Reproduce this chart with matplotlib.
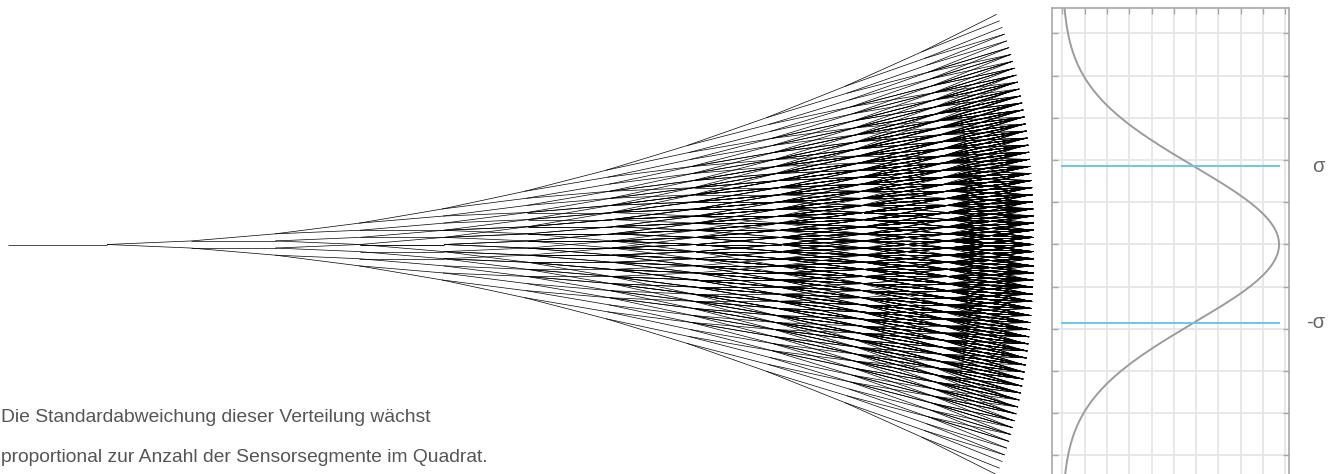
import numpy as np
import matplotlib.pyplot as plt
from matplotlib.collections import LineCollection

plt.rcParams['font.family'] = ['Liberation Sans', 'DejaVu Sans']

# Sensorkette: jedes Segment knickt um +/- delta gegen das vorige ab
n_segments = 11
delta = 0.0422         # Knickwinkel je Segment (rad)
stem_length = 1.175    # gerades Anfangsstück vor dem ersten Knick

# Verteilung der Endpunkte (rechtes Feld)
sigma = 1.855
peak = 9.72
grid_x = np.arange(0, 11)
grid_y = np.arange(-5, 6)

sigma_labels = ["σ", "-σ"]
caption = ["Die Standardabweichung dieser Verteilung wächst",
           "proportional zur Anzahl der Sensorsegmente im Quadrat."]

W, H = 1338, 474
fig = plt.figure(figsize=(W / 100, H / 100), dpi=100)

# --- Baum aller Knick-Kombinationen ---
px_unit = 84.3
ox, oy = 107, 244.5
ax = fig.add_axes([0, 0, 1045 / W, 1])
ax.set_xlim(-ox / px_unit, (1045 - ox) / px_unit)
ax.set_ylim(-(H - oy) / px_unit, oy / px_unit)
ax.axis("off")

x = np.zeros(1)
y = np.zeros(1)
h = np.zeros(1)
segs = [np.array([[[-stem_length, 0.0], [0.0, 0.0]]])]
for k in range(n_segments):
    x = np.repeat(x, 2)
    y = np.repeat(y, 2)
    h = np.repeat(h, 2) + np.tile([1, -1], len(h))
    nx = x + np.cos(h * delta)
    ny = y + np.sin(h * delta)
    segs.append(np.stack([np.column_stack([x, y]), np.column_stack([nx, ny])], axis=1))
    x, y = nx, ny
segs = np.concatenate(segs)
ax.add_collection(LineCollection(segs, colors="black", linewidths=0.5))

# --- Normalverteilung mit Gitter ---
x0, step_x = 1062.3, 22.3
left_px, right_px = 1051.7, 1289
top_px, step_y = 8.0, 42.2
ylim = (oy - top_px) / step_y
ax2 = fig.add_axes([left_px / W, 1 - (oy + ylim * step_y) / H,
                    (right_px - left_px) / W, 2 * ylim * step_y / H])
ax2.set_xlim((left_px - x0) / step_x, (right_px - x0) / step_x)
ax2.set_ylim(-ylim, ylim)
ax2.set_xticks(grid_x)
ax2.set_yticks(grid_y)
ax2.grid(color="#e6e6e6", linewidth=1.3)
ax2.set_axisbelow(True)
ax2.tick_params(direction="in", length=4, width=1, color="#a8a8a8",
                top=True, right=True, bottom=False,
                labelbottom=False, labelleft=False)
for side, sp in ax2.spines.items():
    sp.set_color("#a8a8a8")
    sp.set_linewidth(1.2)
ax2.spines["bottom"].set_visible(False)

yy = np.linspace(-ylim, ylim, 500)
ax2.plot(peak * np.exp(-0.5 * (yy / sigma) ** 2), yy, color="#9c9c9c", lw=1.4)
for s in (sigma, -sigma):
    ax2.plot([0, peak], [s, s], color="#6cc6ea", lw=1.4)

lab_x = (1318 - x0) / step_x
ax2.text(lab_x, sigma, sigma_labels[0], ha="center", va="center",
         fontsize=14.5, color="#666666", clip_on=False)
ax2.text(lab_x - 0.1, -sigma, sigma_labels[1], ha="center", va="center",
         fontsize=14.5, color="#666666", clip_on=False)

fig.text(1 / W, 1 - 422.3 / H, caption[0], fontsize=13.9, color="#555555",
         va="baseline")
fig.text(1 / W, 1 - 462.3 / H, caption[1], fontsize=13.9, color="#555555",
         va="baseline")

fig.savefig("out.png", dpi=100)
